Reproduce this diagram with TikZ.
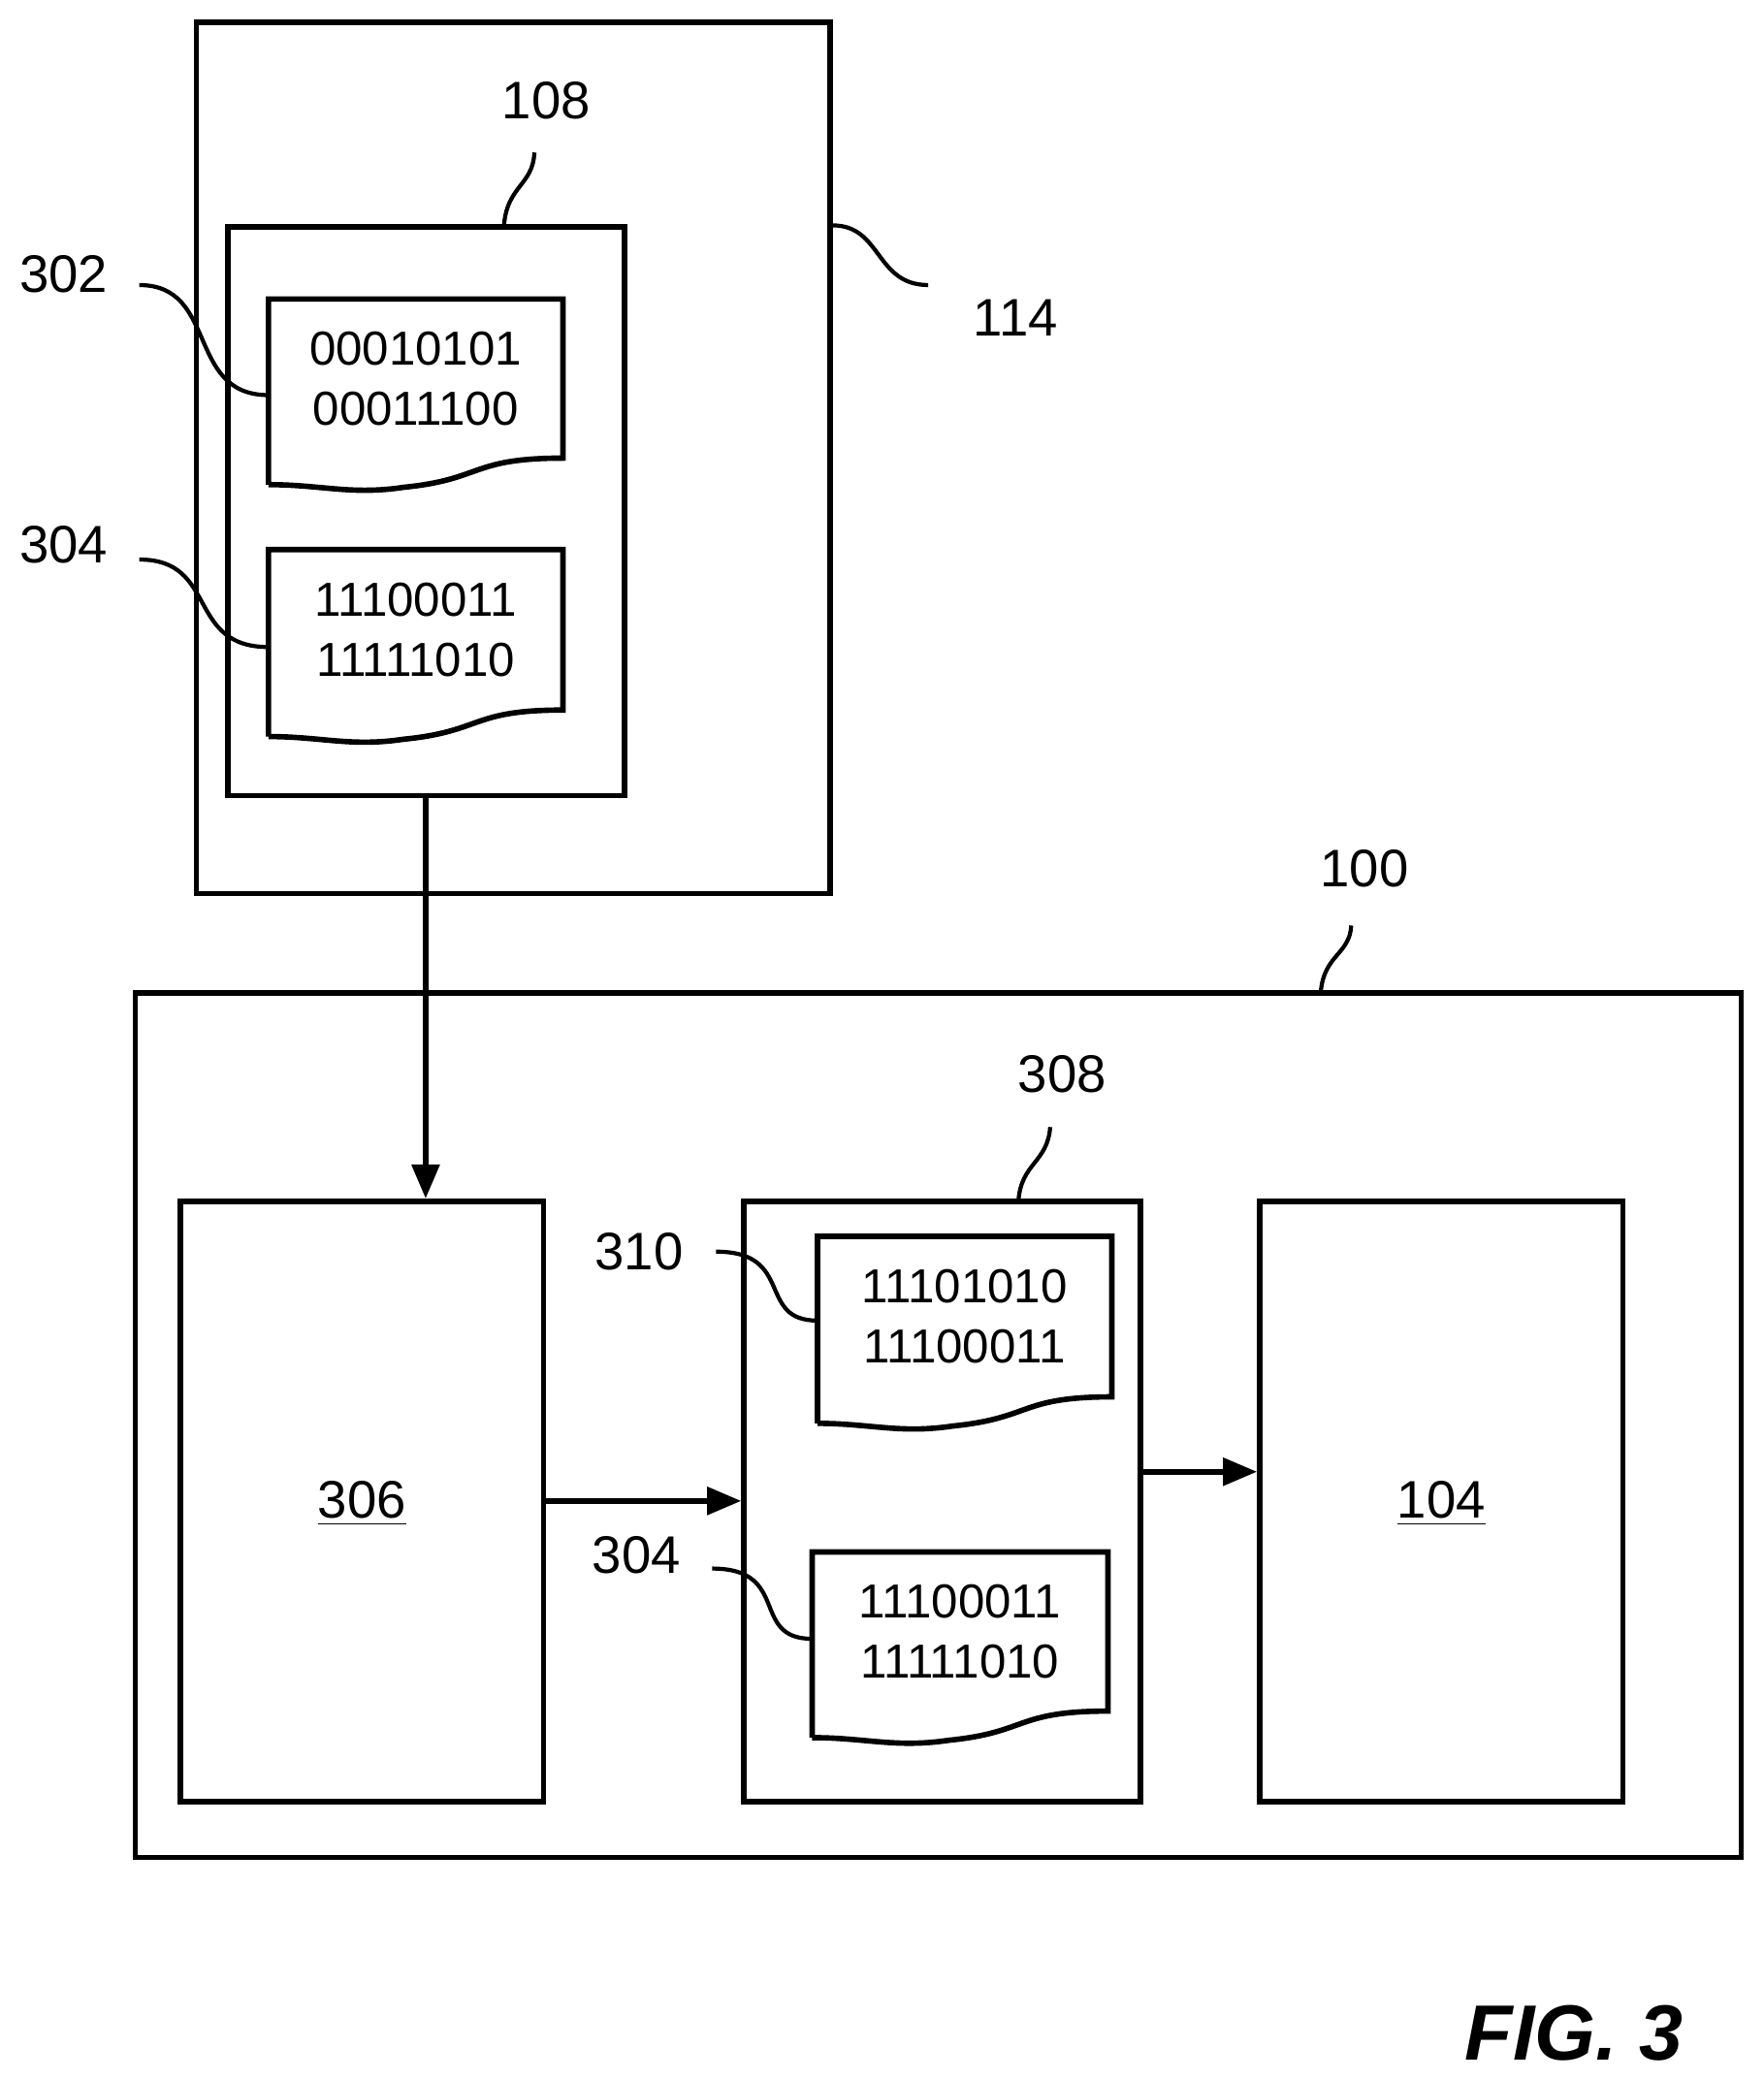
\documentclass[tikz,border=0pt]{standalone}
\usepackage{fontspec}
\setmainfont{Liberation Sans}
\usetikzlibrary{arrows.meta}
\usetikzlibrary{fit}

\tikzset{
  box/.style = {draw, line width=1.6pt, inner sep=0pt},
  doc/.style = {inner sep=0pt, align=center, font=\fontsize{14}{17.5}\selectfont},
  lbl/.style = {font=\fontsize{15.5}{18}\selectfont, inner sep=1pt},
  lead/.style = {line width=1.2pt},
  flow/.style = {line width=1.6pt, -{Triangle[length=10pt,width=8pt]}}
}

\begin{document}
\begin{tikzpicture}[x=0.013677cm, y=-0.013677cm]
			\useasboundingbox (0,0) rectangle (1330,1568);
			% outer boxes
			\node[box, fit={(148,17) (626,674)}] (srv) {};
			\node[box, fit={(172,171) (471,600)}] (mem) {};
			\node[box, fit={(102,749) (1313,1401)}] (dev) {};
			\node[box, fit={(136,906) (410,1359)}] (recv) {};
			\node[box, fit={(561,906) (860,1359)}] (store) {};
			\node[box, fit={(950,906) (1224,1359)}] (proc) {};
			\node[lbl] at (273,1134) {\underline{306}};
			\node[lbl] at (1087,1134) {\underline{104}};
			% documents
			\node[doc, fit={(203,226) (424,345)}] (d302) {};
			\node[doc, fit={(203,415) (424,535)}] (d304) {};
			\node[doc, fit={(617,933) (838,1053)}] (d310) {};
			\node[doc, fit={(613,1171) (835,1290)}] (d304b) {};
			\foreach \d in {d302, d304, d310, d304b}
   \draw[line width=1.6pt] ([shift={(0,20)}]\d.south west) -- (\d.north west) -- (\d.north east) -- (\d.south east)
      .. controls +(-70,0) and +(60,-6) .. ([shift={(-120,22)}]\d.south east)
      .. controls +(-40,6) and +(40,0) .. ([shift={(0,20)}]\d.south west);
			\node[doc] at (d302.center) {00010101\\00011100};
			\node[doc] at (d304.center) {11100011\\11111010};
			\node[doc] at (d310.center) {11101010\\11100011};
			\node[doc] at (d304b.center) {11100011\\11111010};
			% reference numerals
			\node[lbl] (n108) at (412,76) {108};
			\node[lbl] (n114) at (766,240) {114};
			\node[lbl] (n302) at (48,207) {302};
			\node[lbl] (n304) at (48,411) {304};
			\node[lbl] (n100) at (1029,655) {100};
			\node[lbl] (n308) at (801,810) {308};
			\node[lbl] (n310) at (482,944) {310};
			\node[lbl] (n304b) at (480,1173) {304};
			\node[font=\bfseries\itshape\fontsize{23}{26}\selectfont] (fig) at (1187,1533) {FIG. 3};
			% leader lines
			\draw[lead] (380,171) .. controls (382,140) and (402,140) .. (403,115);
			\draw[lead] (srv.east |- 0,170) .. controls (665,170) and (660,215) .. (700,215);
			\draw[lead] (105,215) .. controls (165,215) and (140,298) .. (d302.west |- 0,298);
			\draw[lead] (105,422) .. controls (165,422) and (140,488) .. (d304.west |- 0,488);
			\draw[lead] (996,749) .. controls (998,720) and (1018,720) .. (1019,698);
			\draw[lead] (768,906) .. controls (770,877) and (790,877) .. (792,850);
			\draw[lead] (540,944) .. controls (600,944) and (570,996) .. (d310.west |- 0,996);
			\draw[lead] (537,1183) .. controls (597,1183) and (565,1236) .. (d304b.west |- 0,1236);
			% data flow
			\draw[flow] (mem.south -| 321,0) -- (recv.north -| 321,0);
			\draw[flow] (recv.east |- 0,1132) -- (store.west |- 0,1132);
			\draw[flow] (store.east |- 0,1110) -- (proc.west |- 0,1110);
		\end{tikzpicture}
\end{document}
